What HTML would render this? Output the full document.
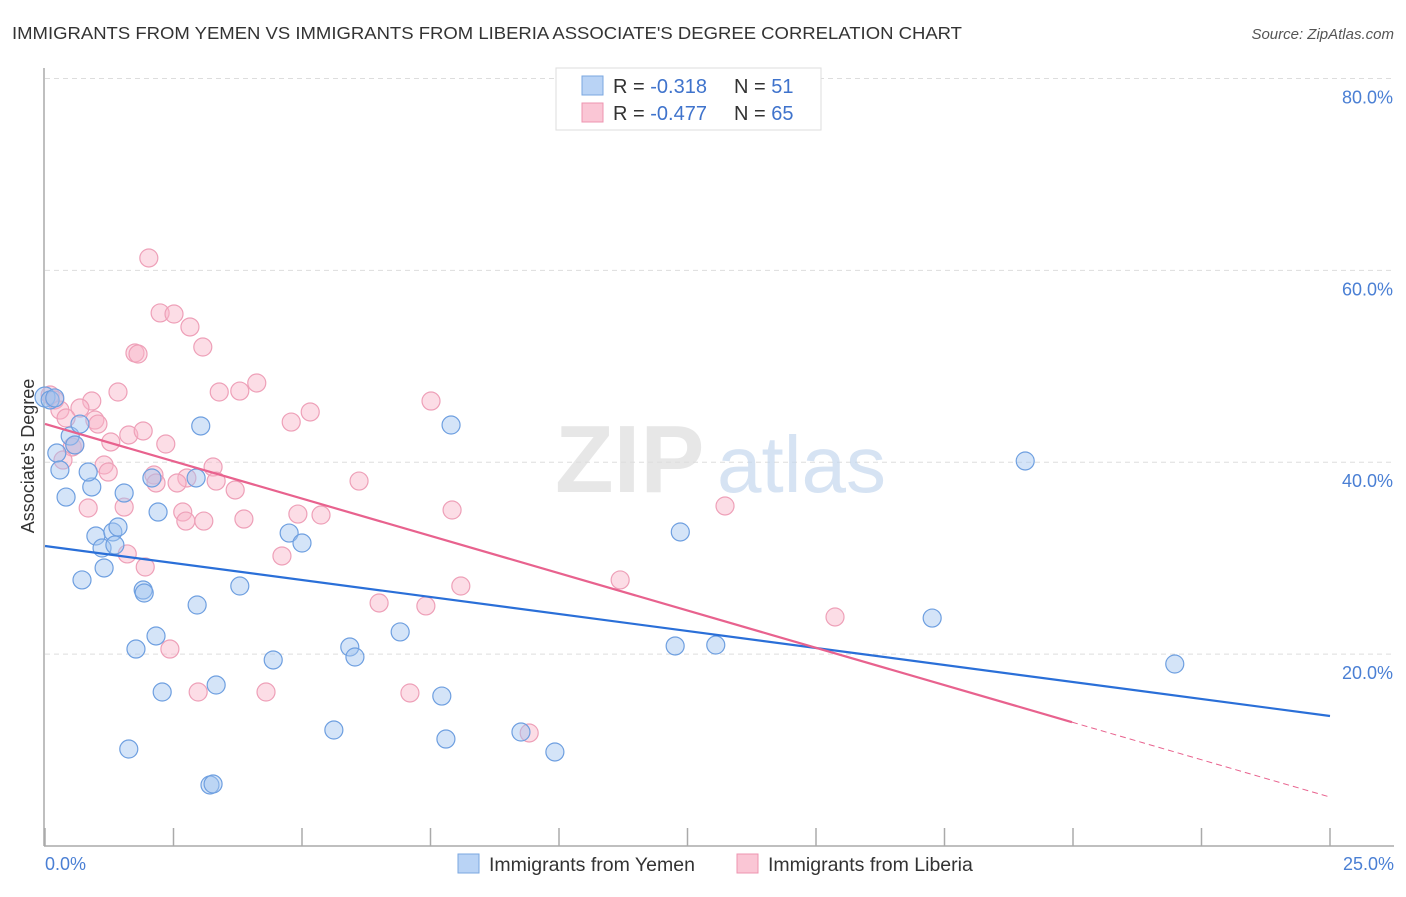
<!DOCTYPE html>
<html><head><meta charset="utf-8">
<style>
body{margin:0;background:#fff;font-family:"Liberation Sans",sans-serif;}
svg text{font-family:"Liberation Sans",sans-serif;}
</style></head>
<body>
<svg id="chart" width="1406" height="892" viewBox="0 0 1406 892" xmlns="http://www.w3.org/2000/svg">
<text x="12" y="39" font-size="17.5" fill="#333" textLength="950" lengthAdjust="spacingAndGlyphs">IMMIGRANTS FROM YEMEN VS IMMIGRANTS FROM LIBERIA ASSOCIATE'S DEGREE CORRELATION CHART</text>
<text x="1394" y="39" font-size="15" fill="#555" text-anchor="end" font-style="italic">Source: ZipAtlas.com</text>
<g id="grid"></g>
<g id="watermark">
<text x="555" y="492" font-size="96" fill="#ddd" font-family="Liberation Serif" font-weight="bold" opacity="0.7">ZIP</text>
<text x="717" y="492" font-size="80" fill="#c6d8ee" opacity="0.7">atlas</text>
</g>
<line x1="44" y1="68" x2="44" y2="846" stroke="#aaa" stroke-width="1.5"/>
<line x1="44" y1="846" x2="1394" y2="846" stroke="#aaa" stroke-width="1.5"/>
<g id="xticks"></g>
<g id="yticks"></g>
<text transform="translate(34,456) rotate(-90)" font-size="18" fill="#333" text-anchor="middle">Associate's Degree</text>
<text x="45" y="870" font-size="18" fill="#4a7fd4">0.0%</text>
<text x="1394" y="870" font-size="18" fill="#4a7fd4" text-anchor="end">25.0%</text>
<g id="pinkpts"></g>
<g id="bluepts"></g>
<g id="trends"></g>
<g>
<rect x="556" y="68" width="265" height="62" fill="#fff" stroke="#ddd"/>
<rect x="582" y="76" width="21" height="19" fill="#b9d3f5" stroke="#7aa7e0"/>
<rect x="582" y="103" width="21" height="19" fill="#fac6d5" stroke="#ee94b0"/>
<text x="613" y="93" font-size="20" fill="#333">R = <tspan fill="#3f73cc"> -0.318</tspan><tspan x="734">N = </tspan><tspan fill="#3f73cc"> 51</tspan></text>
<text x="613" y="120" font-size="20" fill="#333">R = <tspan fill="#3f73cc">-0.477</tspan><tspan x="734">N = </tspan><tspan fill="#3f73cc">65</tspan></text>
</g>
<g>
<rect x="458" y="854" width="21" height="19" fill="#b9d3f5" stroke="#7aa7e0"/>
<text x="489" y="871" font-size="19.5" fill="#333">Immigrants from Yemen</text>
<rect x="737" y="854" width="21" height="19" fill="#fac6d5" stroke="#ee94b0"/>
<text x="768" y="871" font-size="19.5" fill="#333">Immigrants from Liberia</text>
</g>
</svg>
<script>
const yTicks=[20,40,60,80];
const yTickLabels=["20.0%","40.0%","60.0%","80.0%"];
const xTicks=[0,2.5,5,7.5,10,12.5,15,17.5,20,22.5,25];
const yemenX=[0.00,0.10,0.19,0.49,0.58,0.23,0.29,0.41,0.68,0.91,0.84,0.99,1.11,1.15,0.72,1.32,1.42,1.36,1.54,1.91,1.93,1.77,2.16,2.20,2.28,1.63,2.08,2.94,3.03,2.96,3.33,3.21,3.27,3.79,4.44,4.75,5.00,5.62,5.93,6.03,6.91,7.72,7.80,7.90,9.26,9.92,12.26,12.36,13.05,17.26,19.07,21.98];
const yemenY=[46.80,46.49,46.70,42.73,41.80,40.96,39.19,36.37,43.98,37.42,38.98,32.31,31.06,28.98,27.73,32.73,33.25,31.37,36.79,26.68,26.37,20.53,21.89,34.81,16.05,10.11,38.36,38.36,43.78,25.12,16.78,6.36,6.46,27.10,19.39,32.62,31.58,12.09,20.74,19.70,22.31,15.63,11.15,43.88,11.88,9.80,20.85,32.73,20.95,23.76,40.13,18.97];
const liberiaX=[2.02,2.24,2.51,2.82,3.07,1.75,1.81,1.42,0.91,0.10,0.19,0.29,0.68,0.41,0.97,1.03,1.28,0.53,0.58,0.35,1.15,1.23,1.63,1.91,2.35,3.39,3.79,4.12,4.79,5.16,3.27,2.76,2.12,2.16,2.57,3.33,3.70,2.68,2.74,3.09,3.87,4.92,5.37,6.11,7.92,7.51,1.54,0.84,1.60,1.95,4.61,2.43,2.98,4.30,6.50,7.10,7.41,8.09,9.42,11.19,13.23,15.37];
const liberiaY=[61.29,55.56,55.45,54.10,52.01,51.39,51.28,47.32,46.38,47.01,46.49,45.44,45.65,44.61,44.40,43.98,42.11,41.59,41.80,40.23,39.71,38.98,42.84,43.26,41.90,47.32,47.42,48.26,44.19,45.24,39.50,38.36,38.67,37.84,37.84,38.04,37.11,34.81,33.87,33.87,34.08,34.60,34.50,38.04,35.02,46.38,35.33,35.23,30.44,29.08,30.23,20.53,16.05,16.05,25.33,15.95,25.02,27.10,11.78,27.73,35.44,23.87];
const yemenTrend=[31.27,13.55];
const liberiaTrend=[43.99,5.1];
const liberiaSolidEnd=19.98;

const NS="http://www.w3.org/2000/svg";
const xs=v=>45+v/25*1285;
const ys=v=>846-v*9.594;
function mk(tag,attrs,parent){const e=document.createElementNS(NS,tag);for(const k in attrs)e.setAttribute(k,attrs[k]);parent.appendChild(e);return e;}
const grid=document.getElementById('grid'),yt=document.getElementById('yticks'),xt=document.getElementById('xticks');
yTicks.forEach((t,i)=>{
 const l=mk('line',{x1:45,x2:1394,y1:ys(t),y2:ys(t),stroke:'#ddd','stroke-dasharray':'5,4'},grid);
 
 
 const tx=mk('text',{x:1393,y:ys(t)+25,'font-size':18,fill:'#4a7fd4','text-anchor':'end'},yt);
 tx.textContent=yTickLabels[i];
 
 
});
xTicks.forEach(t=>{
 const l=mk('line',{x1:xs(t),x2:xs(t),y1:828,y2:846,stroke:'#aaa','stroke-width':1.5},xt);
 
 
});
const pp=document.getElementById('pinkpts');
liberiaX.forEach((x,i)=>{
 const c=mk('circle',{cx:xs(x),cy:ys(liberiaY[i]),r:9,fill:'rgba(248,180,200,0.45)',stroke:'#eea0b8','stroke-width':1.2},pp);
 
 
});
const bp=document.getElementById('bluepts');
yemenX.forEach((x,i)=>{
 const c=mk('circle',{cx:xs(x),cy:ys(yemenY[i]),r:i==0?10:9,fill:'rgba(160,195,240,0.45)',stroke:'#6e9fe0','stroke-width':1.2},bp);
 
 
});
const tr=document.getElementById('trends');
const yl=mk('line',{x1:xs(0),y1:ys(yemenTrend[0]),x2:xs(25),y2:ys(yemenTrend[1]),stroke:'#2a6fd8','stroke-width':2.2},tr);


const lf=v=>liberiaTrend[0]+(liberiaTrend[1]-liberiaTrend[0])*v/25;
const ll=mk('line',{x1:xs(0),y1:ys(lf(0)),x2:xs(liberiaSolidEnd),y2:ys(lf(liberiaSolidEnd)),stroke:'#e8628e','stroke-width':2.2},tr);


const ld=mk('line',{x1:xs(liberiaSolidEnd),y1:ys(lf(liberiaSolidEnd)),x2:xs(25),y2:ys(lf(25)),stroke:'#e8628e','stroke-width':1,'stroke-dasharray':'6,4'},tr);


</script>
</body></html>
